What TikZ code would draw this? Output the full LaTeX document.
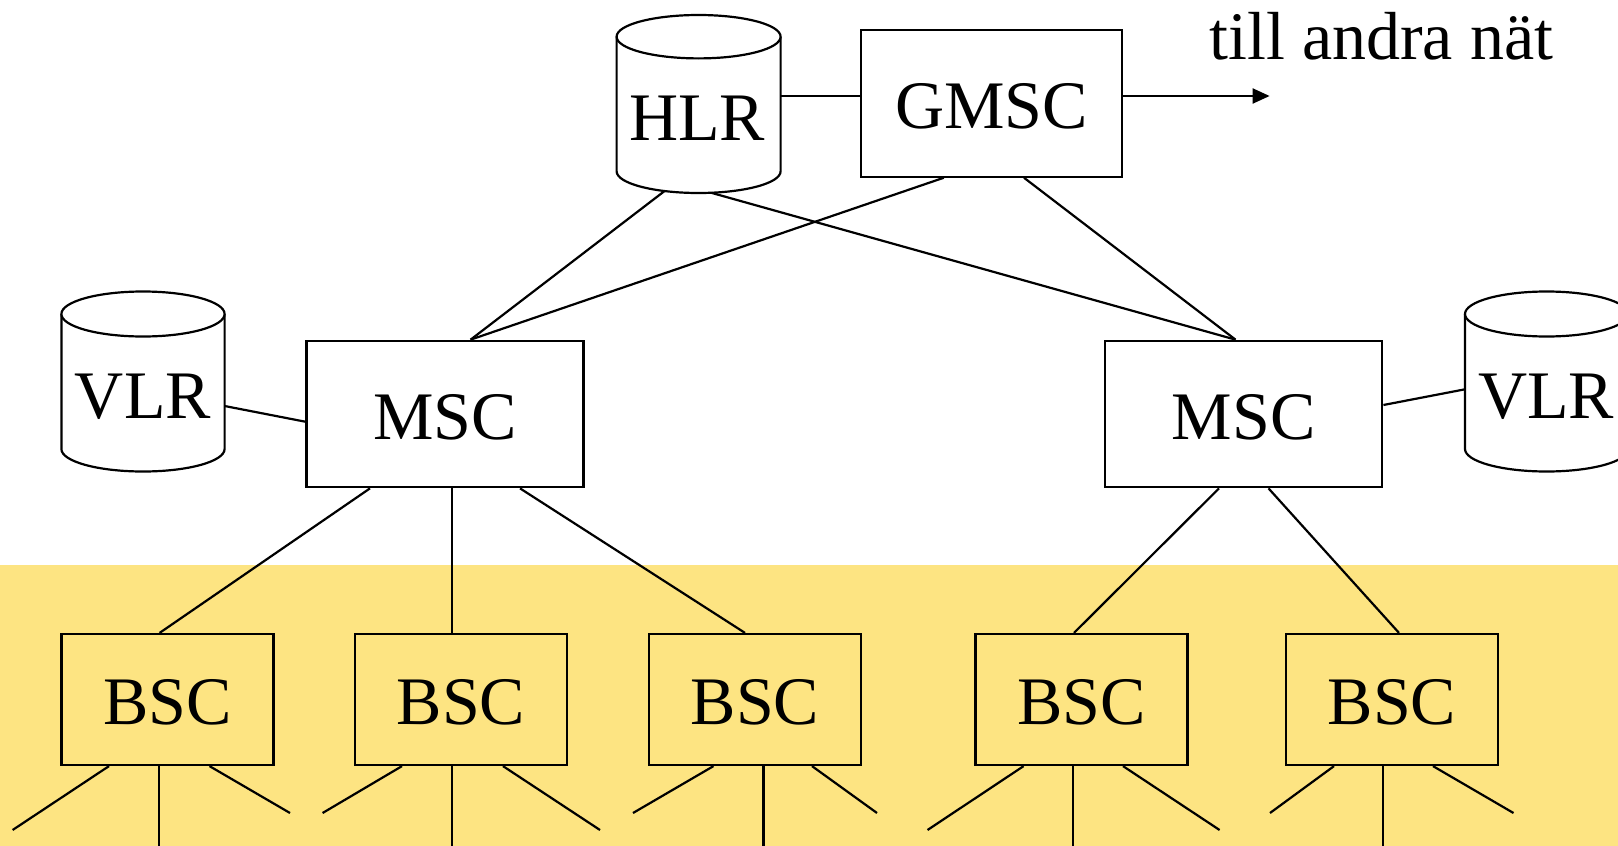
\documentclass[tikz,border=0pt]{standalone}
\usepackage{fontspec}
\setmainfont{Liberation Serif}
\usetikzlibrary{arrows.meta}
\definecolor{bandyellow}{RGB}{253,228,130}
\newcommand\dbcylinder[5]{% cx, top cy, bottom cy, rx, ry
  \fill[white] (#1-#4,#2) -- (#1-#4,#3) arc[start angle=180,end angle=0,x radius=#4,y radius=#5] -- (#1+#4,#2) -- cycle;
  \draw[cylline] (#1-#4,#2) -- (#1-#4,#3) arc[start angle=180,end angle=0,x radius=#4,y radius=#5] -- (#1+#4,#2);
  \draw[cylline,fill=white] (#1,#2) ellipse[x radius=#4,y radius=#5];
}
\begin{document}
\begin{tikzpicture}[x=0.5pt,y=-0.5pt,
  lbl/.style={font=\fontsize{34}{40}\selectfont, text height=25pt, text depth=0pt, inner sep=0pt},
  box/.style={draw, line width=1.1pt, lbl},
  gmscbox/.style={box, fill=white, minimum width=130.5pt, minimum height=73.35pt},
  mscbox/.style={box, fill=white, minimum width=138.5pt, minimum height=73.25pt},
  bscbox/.style={box, fill=bandyellow, minimum width=106pt, minimum height=65.5pt},
  cylbody/.style={inner sep=0pt, outer sep=0pt},
  cylline/.style={line width=1.1pt},
  link/.style={line width=1.1pt},
  arrowlink/.style={link, -{Triangle[length=8.5pt,width=7.5pt]}}]
\useasboundingbox (0,0) rectangle (1618,846);
\fill[white] (0,0) rectangle (1618,846);
\fill[bandyellow] (0,565) rectangle (1618,846);

% cylinders
\dbcylinder{698.6}{36.7}{171.3}{82}{21.7}
\dbcylinder{143}{314}{449}{81.6}{22.5}
\dbcylinder{1546.6}{314}{449}{81.6}{22.5}
\node[cylbody, minimum width=82pt, minimum height=89pt] (hlr) at (698.6,104) {};
\node[cylbody, minimum width=81.6pt, minimum height=90pt] (vlrl) at (143,381.7) {};
\node[cylbody, minimum width=81.6pt, minimum height=90pt] (vlrr) at (1546.6,381.7) {};
\node[lbl] (hlrtext) at (697,115) {HLR};
\node[lbl] (vlrltext) at (143,393) {VLR};
\node[lbl] (vlrrtext) at (1546,393) {VLR};

% boxes
\node[gmscbox] (gmsc) at (991.5,103.3) {GMSC};
\node[mscbox] (mscl) at (444.9,414) {MSC};
\node[mscbox] (mscr) at (1243.8,414) {MSC};
\node[bscbox] (b1) at (167.4,699.5) {BSC};
\node[bscbox] (b2) at (461,699.5) {BSC};
\node[bscbox] (b3) at (755,699.5) {BSC};
\node[bscbox] (b4) at (1081.5,699.5) {BSC};
\node[bscbox] (b5) at (1392,699.5) {BSC};

\node[font=\fontsize{34}{40}\selectfont, inner sep=0pt, anchor=base west] (till) at (1209,59) {till andra nät};

% top connectors
\coordinate (hg) at ([shift={(0,-7.3)}]gmsc.west);
\coordinate (ge) at ([shift={(0,-7.3)}]gmsc.east);
\coordinate (out) at (1269.6,96);
\draw[link] (hlr.east |- hg) -- (hg);
\draw[arrowlink] (ge) -- (out);

\draw[link] ([shift={(-34,-2)}]hlr.south) -- ([shift={(25.7,0)}]mscl.north);
\draw[link] ([shift={(13.4,0)}]hlr.south) -- ([shift={(-8.3,0)}]mscr.north);
\draw[link] ([shift={(-47.75,0)}]gmsc.south) -- ([shift={(25.7,0)}]mscl.north);
\draw[link] ([shift={(32.5,0)}]gmsc.south) -- ([shift={(-8.3,0)}]mscr.north);

\draw[link] ([shift={(0,24.3)}]vlrl.east) -- ([shift={(0,7.7)}]mscl.west);
\draw[link] ([shift={(0,-9)}]mscr.east) -- ([shift={(0,7.6)}]vlrr.west);

% MSC to BSC
\draw[link] ([shift={(-74.9,0)}]mscl.south) -- ([shift={(-7.8,0)}]b1.north);
\draw[link] ([shift={(7.1,0)}]mscl.south) -- ([shift={(-9,0)}]b2.north);
\draw[link] ([shift={(75.1,0)}]mscl.south) -- ([shift={(-10,0)}]b3.north);
\draw[link] ([shift={(-24.8,0)}]mscr.south) -- ([shift={(-7.5,0)}]b4.north);
\draw[link] ([shift={(24.7,0)}]mscr.south) -- ([shift={(7,0)}]b5.north);

% BSC fan-outs
\foreach \b/\s/\dx/\ex/\ey in {
  1/a/-58.4/12.6/830, 1/b/-8.4/159/846, 1/c/42.1/290/813,
  2/a/-59/322.6/813, 2/b/-9/452/846, 2/c/42/600/830,
  3/a/-41.5/633/813, 3/b/8.5/763.5/846, 3/c/57/877/813,
  4/a/-57.9/927.5/830, 4/b/-8.5/1073/846, 4/c/41.5/1219.6/830,
  5/a/-58/1270/813, 5/b/-9/1383/846, 5/c/41/1513.5/813}{
  \coordinate (e\b\s) at (\ex,\ey);
  \draw[link] ([shift={(\dx,0)}]b\b.south) -- (e\b\s);
}
\end{tikzpicture}
\end{document}
